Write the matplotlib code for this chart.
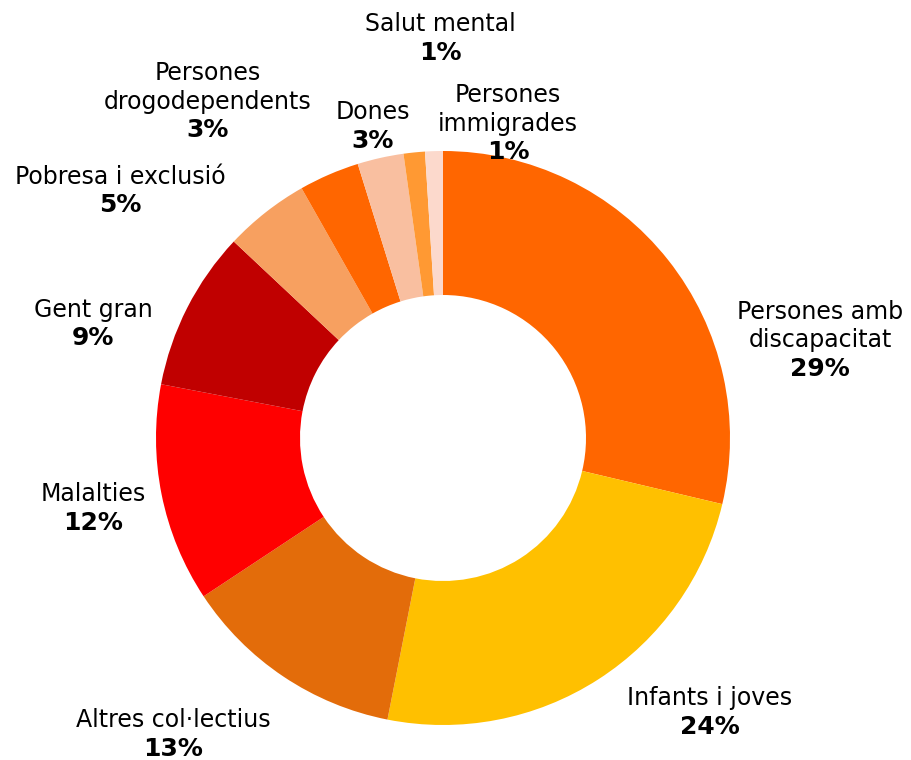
import matplotlib
matplotlib.use("Agg")
import matplotlib.pyplot as plt

categories = ["Persones amb\ndiscapacitat", "Infants i joves", "Altres col·lectius",
              "Malalties", "Gent gran", "Pobresa i exclusió",
              "Persones\ndrogodependents", "Dones", "Salut mental",
              "Persones\nimmigrades"]
values = [28.7, 24.4, 12.6, 12.3, 9.0, 4.8, 3.4, 2.6, 1.2, 1.0]
colors = ["#FF6600", "#FFC000", "#E36C0A", "#FF0000", "#C00000", "#F7A060",
          "#FF6600", "#F9BFA0", "#FF9933", "#FCD9CC"]

# label anchor positions (image pixel coords: x centre, y centre of first line)
label_pos = [(820, 312), (710, 698), (173, 720), (93, 494), (93, 310),
             (120, 177), (208, 73), (373, 112), (440, 24), (508, 95)]

W, H = 912, 760
fig = plt.figure(figsize=(W / 100, H / 100), dpi=100)
ax = fig.add_axes([0, 0, 1, 1])
ax.set_xlim(0, W)
ax.set_ylim(0, H)
ax.axis("off")

cx, cy, R = 443, H - 438, 287
ax.pie(values, colors=colors, startangle=90, counterclock=False,
       center=(cx, cy), radius=R,
       wedgeprops=dict(width=R - 143, linewidth=0))
ax.set_xlim(0, W)
ax.set_ylim(0, H)
ax.set_aspect("equal")

pitch = 28.5
fs = 17
for name, v, (x, y) in zip(categories, values, label_pos):
    lines = name.split("\n")
    for i, ln in enumerate(lines):
        ax.text(x, H - (y + i * pitch), ln, ha="center", va="center",
                fontsize=fs, color="black", family="DejaVu Sans")
    ax.text(x, H - (y + len(lines) * pitch), f"{round(v)}%", ha="center",
            va="center", fontsize=18, fontweight="bold", color="black",
            family="DejaVu Sans")

fig.savefig("out.png", dpi=100)
